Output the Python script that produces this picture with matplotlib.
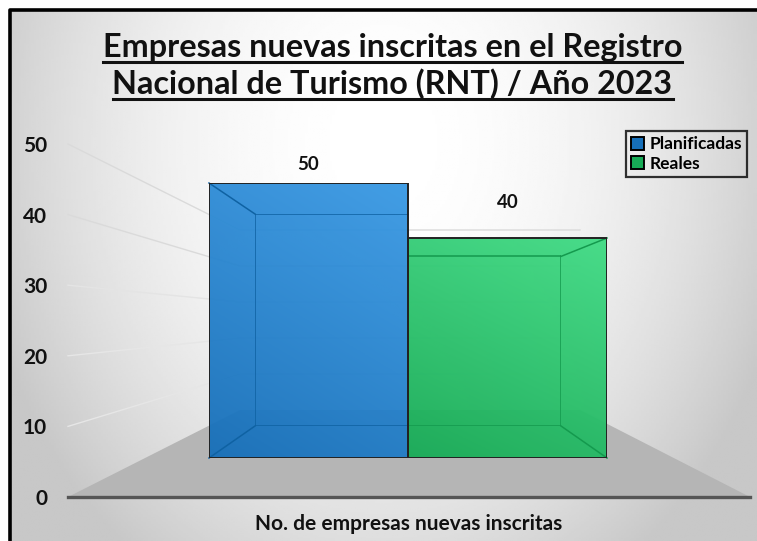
import numpy as np
import matplotlib
matplotlib.use('Agg')
import matplotlib.pyplot as plt
from matplotlib.patches import Patch, Polygon, Rectangle
from matplotlib.transforms import IdentityTransform

W, H = 757, 541

# Data
series = ['Planificadas', 'Reales']
values = [50, 40]
y_ticks = [0, 10, 20, 30, 40, 50]
title_lines = ['Empresas nuevas inscritas en el Registro',
               'Nacional de Turismo (RNT) / Año 2023']
x_label = 'No. de empresas nuevas inscritas'

# Colours, light is the top right of each bar, dark the bottom left
light = ['#3899e4', '#40db84']
dark = ['#166fb9', '#17ab56']
edge_inner = ['#0f62a3', '#149a4e']
grid_colors = {10: '#e6e6e6', 20: '#e6e6e6', 30: '#e4e4e4', 40: '#dadada', 50: '#dadada'}

plt.rcParams['font.family'] = ['Lato', 'DejaVu Sans']
plt.rcParams['font.weight'] = 'bold'

fig = plt.figure(figsize=(W / 100, H / 100), dpi=100, facecolor='white')


# axes from pixel box, y measured from the top of the image
def box_axes(x0, y_bottom, x1, y_top, **kw):
    return fig.add_axes([x0 / W, 1 - y_bottom / H, (x1 - x0) / W, (y_bottom - y_top) / H], **kw)


def plane_axes(x0, y_bottom, x1, y_top, zorder):
    a = box_axes(x0, y_bottom, x1, y_top, zorder=zorder)
    a.set_xlim(0, 2)
    a.set_ylim(0, 50)
    a.set_axis_off()
    a.patch.set_alpha(0)
    return a


def px(a, x, y):
    return a.transData.transform((x, y))


def to_rgb(c):
    return np.array(matplotlib.colors.to_rgb(c))


# background with grey corners
bg = box_axes(10, 541, 757, 10, zorder=0)
bg.set_axis_off()
gx, gy = np.meshgrid(np.linspace(0, 1, 300), np.linspace(0, 1, 300))
dist2 = ((gx - 0.5) / 0.72) ** 2 + ((gy - 0.25) / 1.25) ** 2
shade = 1.0 - 0.36 * np.clip(dist2, 0, 0.6)
bg.imshow(shade, cmap='gray', vmin=0, vmax=1, aspect='auto', extent=[0, 1, 1, 0])
bg.set_xlim(0, 1)
bg.set_ylim(1, 0)

# value axis
ax = box_axes(68, 497, 750, 144, zorder=2)
ax.patch.set_alpha(0)
ax.set_ylim(0, 50)
ax.set_xlim(0, 1)
ax.set_yticks(y_ticks)
ax.set_xticks([])
ax.tick_params(axis='y', length=0, pad=15, labelsize=15, labelcolor='#111111')
for s in ['top', 'right', 'left']:
    ax.spines[s].set_visible(False)
ax.spines['bottom'].set_linewidth(2.4)
ax.spines['bottom'].set_color('#555555')
ax.set_xlabel(x_label, fontsize=15, fontweight='bold', labelpad=12, color='#111111')

# planes of the box: wall for the gridlines, front for the bars, inner for the inset lines
wall = plane_axes(240, 410, 580, 230, 1)
front = plane_axes(209, 458, 607, 183, 3)
inner = plane_axes(255, 426, 561, 214, 4)
outline = plane_axes(209, 458, 607, 183, 6)

fig.canvas.draw()

# floor
p0 = ax.transData.transform((0, 0))
p1 = ax.transData.transform((1, 0))
fig.add_artist(Polygon([p0, px(wall, 0, 0), px(wall, 2, 0), p1], closed=True,
                       transform=IdentityTransform(), facecolor='#b5b5b5', edgecolor='none', zorder=1.5))

# gridlines on left wall and back wall
for t in y_ticks[1:]:
    a_pt = ax.transData.transform((0, t))
    b_pt = px(wall, 0, t)
    c_pt = px(wall, 2, t)
    fig.add_artist(plt.Line2D([a_pt[0], b_pt[0], c_pt[0]], [a_pt[1], b_pt[1], c_pt[1]],
                              transform=IdentityTransform(), color=grid_colors[t], lw=1, zorder=1.6))

# bars
bars = outline.bar([0.5, 1.5], values, width=1, facecolor='none', edgecolor='#222222', linewidth=1.4)
outline.set_ylim(0, 50)
for i, v in enumerate(values):
    grad_x, grad_y = np.meshgrid(np.linspace(0, 1, 120), np.linspace(1, 0, 120))
    amt = (0.7 * grad_y + 0.3 * grad_x)[..., None]
    img = to_rgb(dark[i]) * (1 - amt) + to_rgb(light[i]) * amt
    rgba = np.dstack([img, np.full(img.shape[:2], 0.95)])
    im = front.imshow(rgba, extent=[i, i + 1, 0, v], aspect='auto')
    im.set_clip_path(Rectangle((i, 0), 1, v, transform=front.transData))

    # inset lines of the 3d box
    x_out = 0 if i == 0 else 2
    for level in (0, v):
        a_pt, b_pt = px(front, x_out, level), px(inner, x_out, level)
        fig.add_artist(plt.Line2D([a_pt[0], b_pt[0]], [a_pt[1], b_pt[1]], transform=IdentityTransform(),
                                  color=edge_inner[i], lw=1.1, zorder=5))
    inner.plot([x_out, x_out], [0, v], color=edge_inner[i], lw=1.1)
    inner.plot([x_out, 1], [v, v], color=edge_inner[i], lw=1.1)
    inner.plot([x_out, 1], [0, 0], color=edge_inner[i], lw=1.1)

front.set_xlim(0, 2)
front.set_ylim(0, 50)
inner.set_xlim(0, 2)
inner.set_ylim(0, 50)

# value labels
label_pad = [19, 35]
for bar, v, pad in zip(bars, values, label_pad):
    outline.annotate(str(v), (bar.get_x() + bar.get_width() / 2, v), xytext=(0, pad * 0.72),
                     textcoords='offset points', ha='center', va='center', fontsize=13.5,
                     color='#111111', annotation_clip=False)

# title, underline drawn from the measured text width
renderer = fig.canvas.get_renderer()
for line, base, under in zip(title_lines, [57, 94], [61.5, 99]):
    t = fig.text(392.5 / W, 1 - base / H, line, ha='center', va='baseline', fontsize=23.3, color='#111111')
    bb = t.get_window_extent(renderer)
    fig.add_artist(plt.Line2D([bb.x0, bb.x1], [H - under, H - under], transform=IdentityTransform(),
                              color='#111111', lw=2.2))

# legend
handles = [Patch(facecolor=dark[i], edgecolor='black', linewidth=1.4, label=series[i]) for i in range(2)]
leg = fig.legend(handles=handles, loc='upper right', bbox_to_anchor=(747 / W, 1 - 131 / H),
                 fontsize=12.5, frameon=True, fancybox=False, edgecolor='black', facecolor='none',
                 handlelength=0.75, handleheight=0.75, handletextpad=0.3, labelspacing=0.2,
                 borderpad=0.3, borderaxespad=0)
leg.get_frame().set_linewidth(1.6)

# outer frame, left and top only
frame_x = [10, 10, W]
frame_y = [H, 10, 10]
fig.add_artist(plt.Line2D(frame_x, [H - y for y in frame_y], transform=IdentityTransform(),
                          color='black', lw=2.6, zorder=10))

fig.savefig('out.png', dpi=100, facecolor='white')
